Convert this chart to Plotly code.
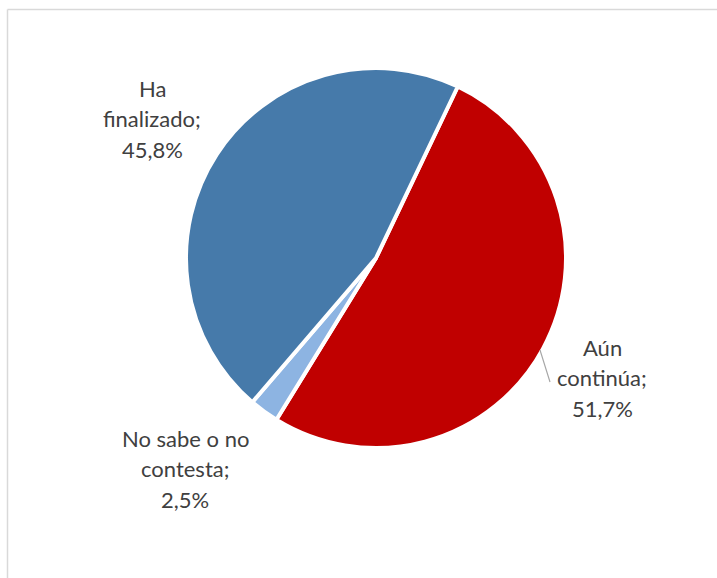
import plotly.graph_objects as go

# Survey answers: situation of the studies
labels = ["Aún continúa", "No sabe o no contesta", "Ha finalizado"]
values = [51.7, 2.5, 45.8]
colors = ["#C00000", "#8DB4E2", "#467AAA"]
# Line breaks used for each outside label
label_lines = [["Aún", "continúa;"], ["No sabe o no", "contesta;"], ["Ha", "finalizado;"]]

W, H = 717, 578
cx, cy, r = 376, 258, 190


def px_x(x):
    return x / W


def px_y(y):
    return 1 - y / H


fig = go.Figure(
    go.Pie(
        labels=labels,
        values=values,
        marker=dict(colors=colors, line=dict(color="white", width=4)),
        sort=False,
        direction="clockwise",
        rotation=25.5,
        textinfo="none",
        hoverinfo="label+percent",
        showlegend=False,
        domain=dict(x=[px_x(cx - r), px_x(cx + r)], y=[px_y(cy + r), px_y(cy - r)]),
    )
)

# Label anchors (centre x, first line y) in pixels
label_pos = [(602, 347), (185, 438), (152, 88)]
line_gap = 30.5

annotations = []
for lines, v, (lx, ly) in zip(label_lines, values, label_pos):
    pct = f"{v:.1f}".replace(".", ",") + "%"
    for i, t in enumerate(lines + [pct]):
        annotations.append(
            dict(
                x=px_x(lx), y=px_y(ly + i * line_gap),
                xref="paper", yref="paper",
                text=t, showarrow=False,
                xanchor="center", yanchor="middle",
                font=dict(family="Lato, Open Sans, sans-serif", size=22, color="#404040"),
            )
        )

shapes = [
    # chart frame (top and left edges)
    dict(type="line", xref="paper", yref="paper",
         x0=px_x(7.5), x1=1.0, y0=px_y(9.5), y1=px_y(9.5),
         line=dict(color="#D9D9D9", width=1.5)),
    dict(type="line", xref="paper", yref="paper",
         x0=px_x(7.5), x1=px_x(7.5), y0=px_y(9.5), y1=0,
         line=dict(color="#D9D9D9", width=1.5)),
    # leader line for the red slice label
    dict(type="line", xref="paper", yref="paper",
         x0=px_x(540), x1=px_x(550), y0=px_y(350), y1=px_y(382),
         line=dict(color="#A6A6A6", width=1.2)),
]

fig.update_layout(
    width=W, height=H,
    margin=dict(l=0, r=0, t=0, b=0),
    paper_bgcolor="white",
    plot_bgcolor="white",
    annotations=annotations,
    shapes=shapes,
)

fig.write_html("out.html")
